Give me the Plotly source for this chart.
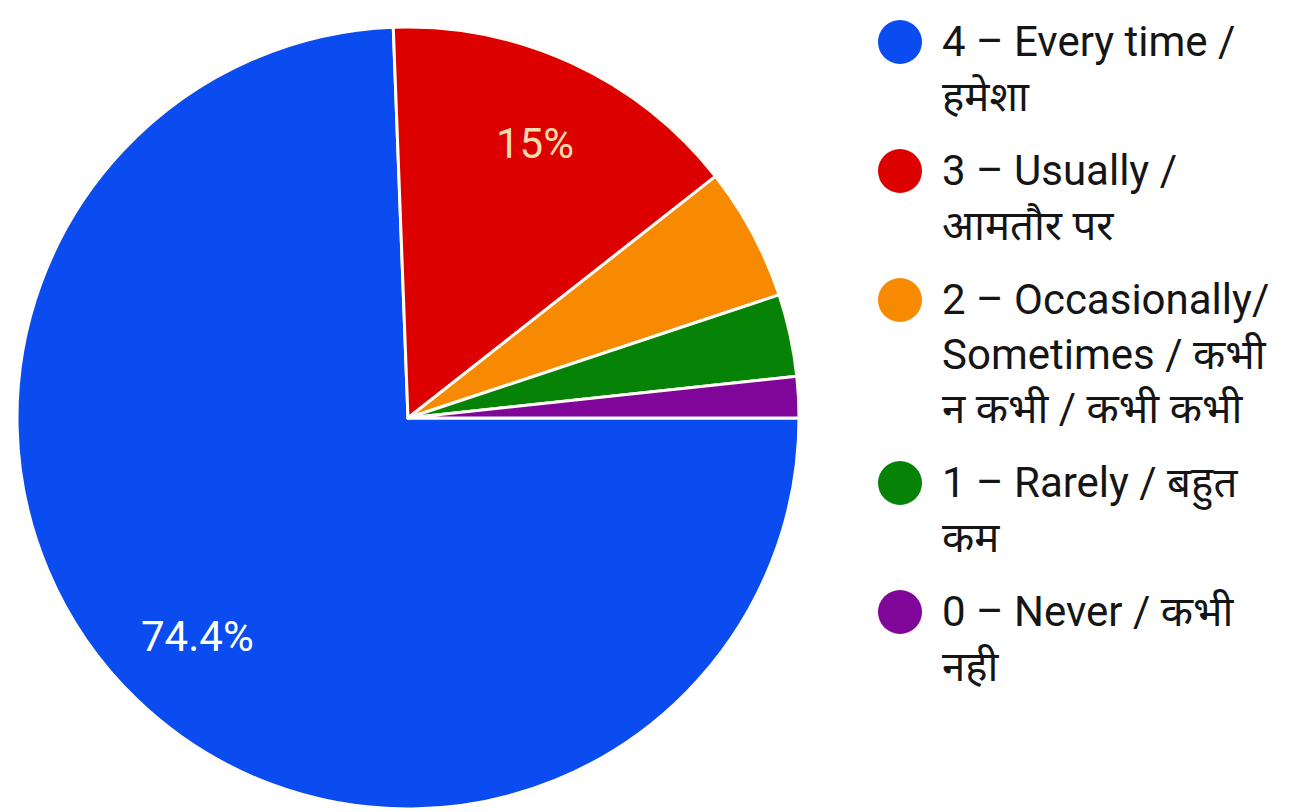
import math
import plotly.graph_objects as go

labels = [
    "4 – Every time /<br>हमेशा",
    "3 – Usually /<br>आमतौर पर",
    "2 – Occasionally/<br>Sometimes / कभी<br>न कभी / कभी कभी",
    "1 – Rarely / बहुत<br>कम",
    "0 – Never / कभी<br>नही",
]
values = [74.4, 15.0, 5.5, 3.4, 1.7]
shown_text = ["74.4%", "15%", "", "", ""]
colors = ["#0a4cf0", "#dc0000", "#f78a00", "#068206", "#800599"]
text_colors = ["#ffffff", "#f7dcb0", "#ffffff", "#ffffff", "#ffffff"]

W, H = 1301, 812
OFF = 8  # page body margin
# pie geometry (page pixels)
CX, CY, R = 408 - OFF, 418 - OFF, 391
START_DEG = 90  # first slice starts at 3 o'clock, clockwise

fig = go.Figure(go.Pie(
    labels=labels,
    values=values,
    textinfo="none",
    marker=dict(colors=colors, line=dict(color="#fffdf6", width=3)),
    sort=False,
    direction="clockwise",
    rotation=START_DEG,
    domain=dict(x=[(CX - R) / W, (CX + R) / W], y=[1 - (CY + R) / H, 1 - (CY - R) / H]),
    hoverinfo="label+percent",
    showlegend=False,
))

annotations = []
shapes = []

# percentage labels placed at the middle angle of each slice
total = sum(values)
cum = 0.0
for v, t, tc in zip(values, shown_text, text_colors):
    mid = START_DEG + (cum + v / 2) / total * 360.0
    cum += v
    if not t:
        continue
    rr = 0.775 * R
    px = CX + rr * math.sin(math.radians(mid))
    py = CY - rr * math.cos(math.radians(mid))
    annotations.append(dict(
        x=px / W, y=1 - py / H, xref="paper", yref="paper",
        text=t, showarrow=False, xanchor="center", yanchor="middle",
        font=dict(family="Roboto, sans-serif", size=42, color=tc),
    ))

# custom legend: large circles + wrapped text
LEG_FS = 42
LINE = 54
GAP = 21
MARK_X = 900 - OFF
MARK_D = 44
TEXT_X = 940 - OFF
y_first = 42 - OFF
for lab, col in zip(labels, colors):
    nlines = lab.count("<br>") + 1
    shapes.append(dict(
        type="circle", xref="paper", yref="paper",
        x0=(MARK_X - MARK_D / 2) / W, x1=(MARK_X + MARK_D / 2) / W,
        y0=1 - (y_first + MARK_D / 2) / H, y1=1 - (y_first - MARK_D / 2) / H,
        fillcolor=col, line=dict(width=0),
    ))
    annotations.append(dict(
        x=TEXT_X / W, y=1 - (y_first - LINE / 2) / H, xref="paper", yref="paper",
        text=lab, showarrow=False, xanchor="left", yanchor="top", align="left",
        font=dict(family="Roboto, Noto Sans, sans-serif", size=LEG_FS, color="#151515"),
    ))
    y_first += nlines * LINE + GAP

fig.update_layout(
    width=W, height=H,
    margin=dict(l=0, r=0, t=0, b=0),
    paper_bgcolor="#ffffff",
    annotations=annotations,
    shapes=shapes,
)

fig.write_html("out.html")
